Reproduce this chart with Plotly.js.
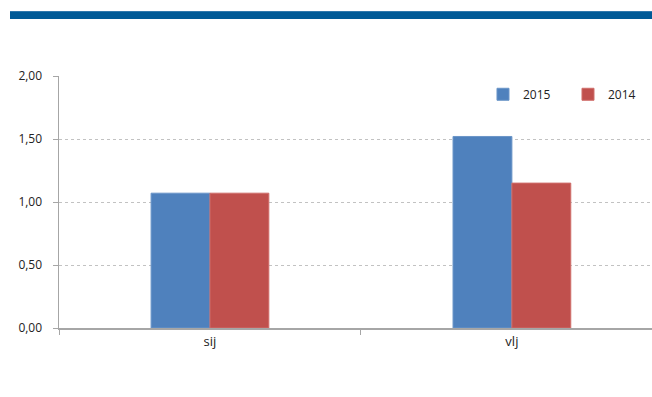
<!DOCTYPE html>
<html>
<head>
<meta charset="utf-8">
<script src="https://cdn.plot.ly/plotly-3.0.1.min.js"></script>
<style>
  html, body { margin: 0; padding: 0; background: #fff; overflow: hidden; }
  #wrap { position: relative; width: 652px; height: 397px; }
  #topbar { position: absolute; left: 10px; top: 11px; width: 642px; height: 8px; background: #005A97; border-top: 1px solid #2f78ad; box-sizing: border-box; }
  #chart { position: absolute; left: 0; top: 0; width: 652px; height: 397px; }
</style>
</head>
<body>
<div id="wrap">
  <div id="chart"></div>
  <div id="topbar"></div>
</div>
<script>
const categories = ["sij", "vlj"];
const series2015 = [1.07, 1.52];
const series2014 = [1.07, 1.15];
const seriesNames = ["2015", "2014"];
const yTickVals = [0, 0.5, 1, 1.5, 2];

const traces = [
  { type: "bar", name: seriesNames[0], x: categories, y: series2015,
    marker: { color: "#4F81BD", line: { color: "#6a95c8", width: 1 } } },
  { type: "bar", name: seriesNames[1], x: categories, y: series2014,
    marker: { color: "#C0504D", line: { color: "#cf6d6a", width: 1 } } }
];

const layout = {
  width: 652, height: 397,
  margin: { l: 59, r: 0, t: 76, b: 69, pad: 0, autoexpand: false },
  paper_bgcolor: "#fff", plot_bgcolor: "#fff",
  font: { family: "Open Sans, DejaVu Sans, sans-serif", size: 12, color: "#222" },
  separators: ", ",
  barmode: "group",
  bargap: 0.61,
  bargroupgap: 0,
  showlegend: true,
  legend: {
    orientation: "h", x: 0.715, xanchor: "left", y: 0.985, yanchor: "top",
    font: { size: 12, color: "#222" }, entrywidth: 40, traceorder: "normal",
    bgcolor: "rgba(0,0,0,0)"
  },
  xaxis: {
    type: "category", range: [-0.5, 1.464], fixedrange: true,
    showline: true, linecolor: "#a6a6a6", linewidth: 2,
    ticks: "outside", tickson: "boundaries", ticklen: 5, tickcolor: "#a6a6a6", tickwidth: 1,
    tickfont: { size: 13, color: "#222" }, showgrid: false, zeroline: false
  },
  yaxis: {
    range: [0, 2], tickvals: yTickVals, tickformat: ".2f",
    showline: true, linecolor: "#a6a6a6", linewidth: 1.5,
    ticks: "outside", ticklen: 5, tickcolor: "#a6a6a6",
    showgrid: true, gridcolor: "#c2c2c2", griddash: "dot", gridwidth: 1,
    zeroline: false, tickfont: { size: 12, color: "#222" }, ticklabelstandoff: 8
  }
};

Plotly.newPlot("chart", traces, layout, { displayModeBar: false, staticPlot: true });
</script>
</body>
</html>
